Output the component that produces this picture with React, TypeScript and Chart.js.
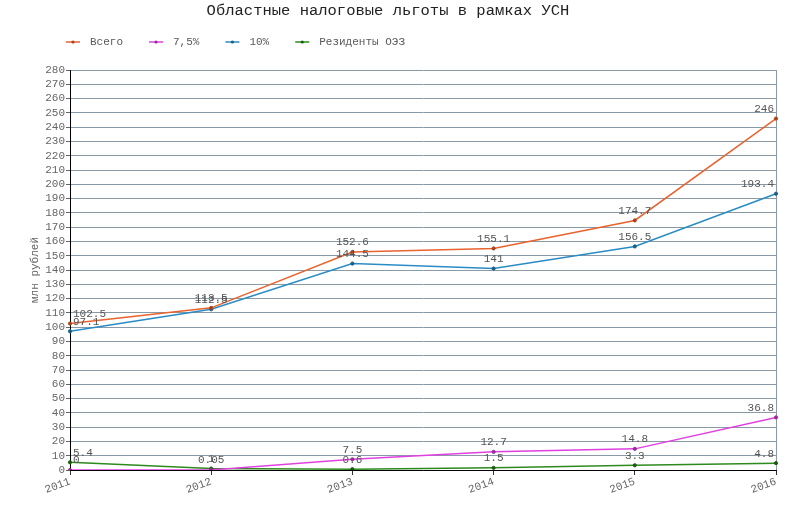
import { useEffect, useRef } from 'react';
import Chart from 'chart.js/auto';

const years = ['2011', '2012', '2013', '2014', '2015', '2016'];
const totalValues = [102.5, 113.5, 152.6, 155.1, 174.7, 246];
const rate75Values = [0, 0.05, 7.5, 12.7, 14.8, 36.8];
const rate10Values = [97.1, 112.5, 144.5, 141, 156.5, 193.4];
const residentValues = [5.4, 1, 0.6, 1.5, 3.3, 4.8];
const seriesNames = ['Всего', '7,5%', '10%', 'Резиденты ОЭЗ'];
const yMax = 280;
const yStep = 10;

const FONT = '"Liberation Mono", "Courier New", monospace';
const gridColor = '#8a99a6';

// legend drawn as short line with a dot, like the original
const lineLegend = {
  id: 'lineLegend',
  afterDraw(chart: any) {
    const ctx = chart.ctx;
    let x = 66;
    const y = 42;
    ctx.save();
    ctx.font = `11px ${FONT}`;
    ctx.textBaseline = 'middle';
    ctx.textAlign = 'left';
    chart.data.datasets.forEach((ds: any) => {
      ctx.strokeStyle = ds.borderColor;
      ctx.lineWidth = 1.5;
      ctx.beginPath();
      ctx.moveTo(x, y);
      ctx.lineTo(x + 14, y);
      ctx.stroke();
      ctx.fillStyle = ds.pointBackgroundColor;
      ctx.beginPath();
      ctx.arc(x + 7, y, 1.6, 0, Math.PI * 2);
      ctx.fill();
      ctx.fillStyle = '#5a5a5a';
      ctx.fillText(ds.label, x + 24, y);
      x += 24 + ctx.measureText(ds.label).width + 26;
    });
    ctx.restore();
  },
};

const valueLabels = {
  id: 'valueLabels',
  afterDatasetsDraw(chart: any) {
    const { ctx, chartArea } = chart;
    ctx.save();
    ctx.font = `11px ${FONT}`;
    ctx.fillStyle = '#555';
    ctx.textBaseline = 'bottom';
    ctx.textAlign = 'left';
    chart.data.datasets.forEach((ds: any, i: number) => {
      const meta = chart.getDatasetMeta(i);
      meta.data.forEach((pt: any, j: number) => {
        const text = String(ds.data[j]);
        const w = ctx.measureText(text).width;
        let tx = pt.x - w / 2;
        if (tx < chartArea.left + 3) tx = chartArea.left + 3;
        if (tx + w > chartArea.right - 2) tx = chartArea.right - 2 - w;
        ctx.fillText(text, tx, pt.y - 4);
      });
    });
    ctx.restore();
  },
};

const makeSeries = (label: string, data: number[], line: string, dot: string) => ({
  label,
  data,
  borderColor: line,
  backgroundColor: line,
  pointBackgroundColor: dot,
  pointBorderColor: dot,
  pointRadius: 1.6,
  pointBorderWidth: 1,
  borderWidth: 1.5,
  tension: 0,
  fill: false,
});

const App = () => {
  const chartRef = useRef<HTMLCanvasElement>(null);
  const chartInstance = useRef<Chart | null>(null);

  useEffect(() => {
    const canvas = chartRef.current;
    if (!canvas) return;
    const ctx = canvas.getContext('2d');
    if (!ctx) return;

    if (chartInstance.current) {
      chartInstance.current.destroy();
    }

    chartInstance.current = new Chart(ctx, {
      type: 'line',
      data: {
        labels: years,
        datasets: [
          makeSeries(seriesNames[0], totalValues, '#e8632e', '#a8431c'),
          makeSeries(seriesNames[1], rate75Values, '#e040e0', '#9a2a9a'),
          makeSeries(seriesNames[2], rate10Values, '#2a8cc4', '#1b5f86'),
          makeSeries(seriesNames[3], residentValues, '#2e8a1e', '#1d5a12'),
        ],
      },
      options: {
        responsive: true,
        maintainAspectRatio: false,
        animation: false,
        layout: { padding: { left: 0, right: 24, top: 0, bottom: 0 } },
        plugins: {
          legend: { display: false },
          tooltip: { enabled: false },
          title: {
            display: true,
            text: 'Областные налоговые льготы в рамках УСН',
            color: '#222',
            font: { family: FONT, size: 15.5, weight: 'normal' },
            padding: { top: 2, bottom: 49.4 },
          },
        },
        scales: {
          x: {
            afterFit: (scale: any) => {
              scale.height = 56;
            },
            ticks: {
              color: '#666',
              font: { family: FONT, size: 11 },
              minRotation: 20,
              maxRotation: 20,
              padding: 0,
            },
            grid: {
              color: (c: any) => (c.index === years.length - 1 ? gridColor : 'rgba(0,0,0,0)'),
              tickColor: '#333',
              tickLength: 5,
            },
            border: { color: '#000', width: 1 },
          },
          y: {
            min: 0,
            max: yMax,
            afterFit: (scale: any) => {
              scale.width = 70;
            },
            ticks: {
              stepSize: yStep,
              autoSkip: false,
              color: '#666',
              font: { family: FONT, size: 11 },
              padding: 1,
            },
            grid: {
              color: gridColor,
              tickColor: '#666',
              tickLength: 4,
            },
            border: { color: '#000', width: 1 },
            title: {
              display: true,
              text: 'млн рублей',
              color: '#666',
              font: { family: FONT, size: 11 },
              padding: { top: 28, bottom: 0 },
            },
          },
        },
      },
      plugins: [valueLabels, lineLegend],
    });

    return () => {
      if (chartInstance.current) {
        chartInstance.current.destroy();
        chartInstance.current = null;
      }
    };
  }, []);

  return (
    <div style={{ position: 'fixed', left: 0, top: 0, width: '800px', height: '526px', background: '#fff' }}>
      <canvas ref={chartRef}></canvas>
    </div>
  );
};

export default App;
